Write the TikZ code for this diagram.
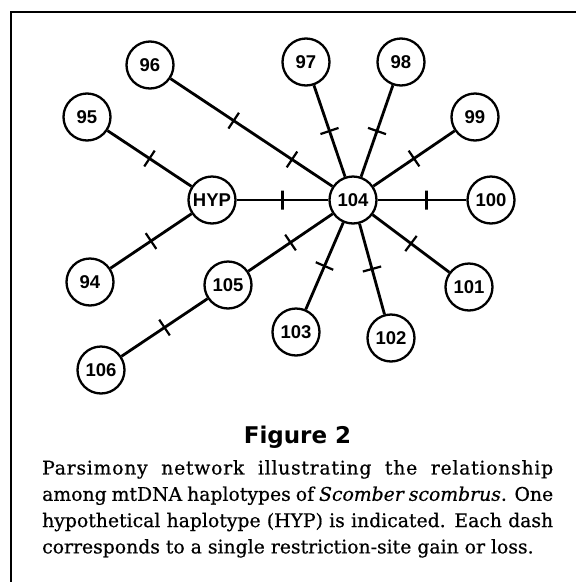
\documentclass[tikz,border=0pt]{standalone}
\usepackage{fontspec}
\setmainfont{DejaVu Serif}[FakeBold=0.6]
\newfontfamily\hapfont{Liberation Sans}
\newfontfamily\headfont{DejaVu Sans}

\begin{document}
\begin{tikzpicture}[x=1pt,y=-1pt,
  hap/.style={circle,draw,line width=2.3pt,fill=white,minimum size=47pt,inner sep=0pt,font=\hapfont\bfseries\fontsize{18.5}{20}\selectfont},
  sitemark/.style={sloped,draw,line width=2.2pt,inner sep=0pt,minimum width=0pt,minimum height=19pt},
  link/.style={line width=2.8pt}]
\useasboundingbox (0,0) rectangle (576,582);
\draw[line width=2.8pt] (11,582) -- (11,12) -- (576,12);
\node[hap] (hyp) at (212,200) {HYP};
\node[hap] (n104) at (353,200) {104};
\node[hap] (n94) at (90,282) {94};
\node[hap] (n95) at (87,117) {95};
\node[hap] (n96) at (150,65) {96};
\node[hap] (n97) at (306,62) {97};
\node[hap] (n98) at (401,62) {98};
\node[hap] (n99) at (475,117) {99};
\node[hap] (n100) at (491,200) {100};
\node[hap] (n101) at (469,287) {101};
\node[hap] (n102) at (391,338) {102};
\node[hap] (n103) at (296,332) {103};
\node[hap] (n105) at (228,285) {105};
\node[hap] (n106) at (101,370) {106};
\draw[link] (n95) -- node[sitemark]{} (hyp);
\draw[link] (hyp) -- node[sitemark]{} (n94);
\draw[link] (hyp) -- node[sitemark]{} (n104);
\draw[link] (n96) -- node[sitemark,pos=.39]{} node[sitemark,pos=.75]{} (n104);
\draw[link] (n97) -- node[sitemark]{} (n104);
\draw[link] (n98) -- node[sitemark]{} (n104);
\draw[link] (n99) -- node[sitemark]{} (n104);
\draw[link] (n104) -- node[sitemark,pos=.55]{} (n100);
\draw[link] (n104) -- node[sitemark]{} (n101);
\draw[link] (n104) -- node[sitemark]{} (n102);
\draw[link] (n104) -- node[sitemark]{} (n103);
\draw[link] (n104) -- node[sitemark]{} (n105);
\draw[link] (n105) -- node[sitemark]{} (n106);
\node[font=\headfont\bfseries\fontsize{23}{26}\selectfont,anchor=base] (title) at (297.5,443) {Figure 2};
\node[anchor=north west,inner sep=0pt,text width=511pt,align=justify,font=\fontsize{18.8}{26.3}\selectfont] (caption) at (42,460)
  {{\addfontfeatures{LetterSpace=4}Parsimony network illustrating the relationship}\linebreak
   among mtDNA haplotypes of \textit{Scomber scombrus}. One\linebreak
   hypothetical haplotype (HYP) is indicated. Each dash\linebreak
   corresponds to a single restriction-site gain or loss.};
\end{tikzpicture}
\end{document}
